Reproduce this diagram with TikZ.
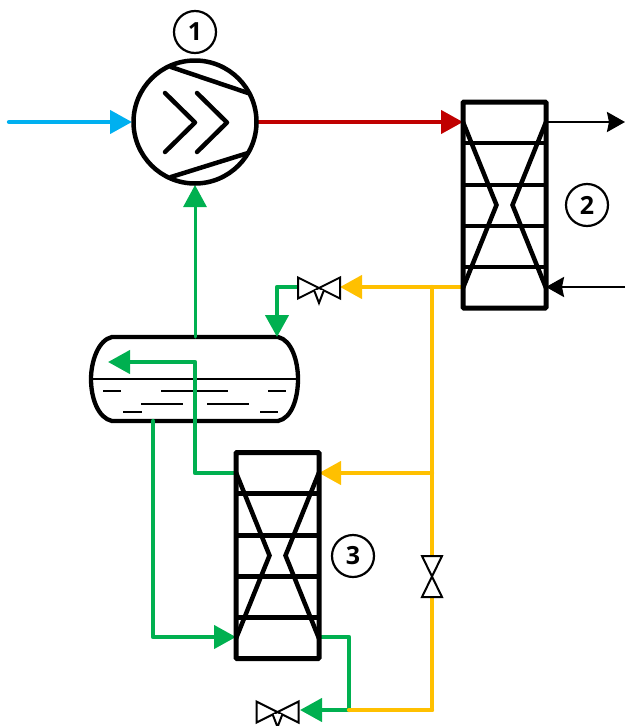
\documentclass[tikz,border=0pt]{standalone}
\usepackage{fontspec}
\setmainfont{Open Sans}
\usetikzlibrary{arrows.meta}
\definecolor{cblue}{HTML}{00B0F0}
\definecolor{cred}{HTML}{C00000}
\definecolor{cgreen}{HTML}{00B050}
\definecolor{cyell}{HTML}{FFC000}
\tikzset{
  x=1pt,y=-1pt,
  bigflow/.style={line width=4.3pt,line join=round,line cap=round,-{Triangle[length=22pt,width=23pt,sharp]}},
  plain/.style={line width=4.3pt,line join=round,line cap=round},
  blk/.style={line width=2.6pt,black,-{Stealth[length=18pt,width=20pt,inset=2pt,sharp]}},
  equip/.style={line width=4.5pt,black,line join=round,line cap=round},
  thinequip/.style={line width=2pt,black,line join=miter},
  tag/.style={circle,draw=black,line width=2.2pt,minimum size=42pt,inner sep=0pt,font=\bfseries\fontsize{25}{25}\selectfont},
  hxbox/.style={rectangle,draw=black,line width=5pt,minimum width=83pt,minimum height=206pt,inner sep=0pt,rounded corners=1pt},
  liquid/.style={line width=1.7pt,black},
}
\newcommand{\hxinner}[2]{%
  \begin{scope}[shift={(#1,#2)}]
    \foreach \yy in {41,83,124,165}
      \draw[line width=4.3pt,black] (-41.5,\yy-103) -- (41.5,\yy-103);
    \draw[equip,line cap=butt,line join=miter] (-41.5,-83) -- (-8,0) -- (-41.5,83);
    \draw[equip,line cap=butt,line join=miter] (41.5,-83) -- (8,0) -- (41.5,83);
  \end{scope}}
\newcommand{\hvalve}[2]{%
  \draw[thinequip,fill=white] (#1-21,#2-10.5) -- (#1+21,#2+10.5) -- (#1+21,#2-10.5) -- (#1-21,#2+10.5) -- cycle;
  \draw[thinequip,fill=white] (#1-5,#2+2) -- (#1,#2+15) -- (#1+5,#2+2);}
\begin{document}
\begin{tikzpicture}
\useasboundingbox (0,0) rectangle (625,726);
% coordinates
\coordinate (inL) at (9,122);
\coordinate (compIn) at (132,122);
\coordinate (compOut) at (257,122);
\coordinate (compBot) at (195,185);
\coordinate (h2a) at (463,122);
\coordinate (h2b) at (546,122);
\coordinate (h2c) at (463,287);
\coordinate (h2d) at (546,287);
\coordinate (outR) at (625,122);
\coordinate (inR) at (625,287);
\coordinate (vesTop) at (195,337);
\coordinate (vesIn) at (277,337);
\coordinate (tee1) at (432,287);
\coordinate (tee2) at (432,473);
\coordinate (v1R) at (340,287);
\coordinate (v1L) at (298,287);
\coordinate (bend1) at (277,287);
\coordinate (h3a) at (236,473);
\coordinate (h3b) at (319,473);
\coordinate (h3c) at (236,637);
\coordinate (h3d) at (319,637);
\coordinate (vesBot) at (153,421);
\coordinate (bend2) at (153,637);
\coordinate (bend3) at (195,473);
\coordinate (bend4) at (195,362);
\coordinate (vesTip) at (108,362);
\coordinate (bend5) at (349,637);
\coordinate (join) at (349,710);
\coordinate (v3R) at (300,710);
\coordinate (corner) at (432,710);
\coordinate (v2T) at (432,556);
\coordinate (v2B) at (432,597);
% vessel
\draw[line width=4.3pt,black,line join=round] (112,337) -- (278,337)
  .. controls (292,340) and (298,362) .. (298,379)
  .. controls (298,398) and (292,418) .. (278,421) -- (112,421)
  .. controls (98,418) and (91,398) .. (91,379)
  .. controls (91,362) and (98,340) .. (112,337) -- cycle;
\draw[line width=1.8pt] (91,379) -- (298,379);
\foreach \a/\b/\c in {103/121/391,161/228/391,268/286/391,141/183/404,207/249/404,123/142/412,260/278/412}
  \draw[liquid] (\a,\c) -- (\b,\c);
% pipes
\draw[bigflow,cblue] (inL) -- (compIn);
\draw[bigflow,cred] (compOut) -- (h2a);
\draw[bigflow,line width=3pt,cgreen] (vesTop) -- (compBot);
\draw[bigflow,cyell] (h2c) -- (v1R);
\draw[plain,cyell] (tee1) -- (v2T);
\draw[bigflow,cyell] (tee2) -- (h3b);
\draw[plain,cyell] (v2B) -- (corner) -- (join);
\draw[bigflow,cgreen] (v1L) -- (bend1) -- (vesIn);
\draw[bigflow,cgreen] (h3a) -- (bend3) -- (bend4) -- (vesTip);
\draw[bigflow,cgreen] (vesBot) -- (bend2) -- (h3c);
\draw[plain,cgreen] (h3d) -- (bend5) -- (join);
\draw[bigflow,cgreen] (join) -- (v3R);
\draw[plain,cyell] (join) -- (corner);
\draw[blk] (h2b) -- (outR);
\draw[blk] (inR) -- (h2d);
% compressor
\node[circle,draw=black,line width=4.5pt,minimum size=123pt,inner sep=0pt] (comp) at (195,122) {};
\draw[equip] (171,67) -- (248,93);
\draw[equip] (171,177) -- (248,153);
\draw[equip] (165,93) -- (195,122.5) -- (165,152);
\draw[equip] (197,93) -- (227,122.5) -- (197,152);
% heat exchangers
\node[hxbox] (hxtwo) at (504.5,205) {};
\hxinner{504.5}{205}
\node[hxbox] (hxthree) at (277.5,555.5) {};
\hxinner{277.5}{555.5}
% valves
\hvalve{319}{288}
\hvalve{277.5}{712}
\draw[thinequip,fill=white] (422,556) -- (442,597) -- (422,597) -- (442,556) -- cycle;
% tags
\node[tag] (t1) at (195,32) {1};
\node[tag] (t2) at (587,205) {2};
\node[tag] (t3) at (353,556) {3};
\end{tikzpicture}
\end{document}
